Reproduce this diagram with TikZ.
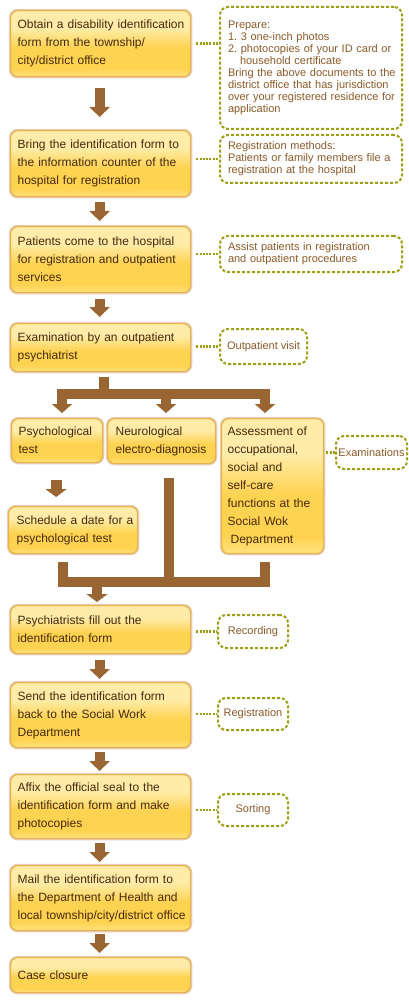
\documentclass[tikz,border=0pt]{standalone}
\usepackage{fontspec}
\setmainfont{Liberation Sans}
\usetikzlibrary{arrows.meta,calc}
\frenchspacing
\definecolor{arrowc}{RGB}{153,102,51}
\definecolor{olivec}{RGB}{158,158,20}
\definecolor{notetext}{RGB}{140,90,40}
\definecolor{maintext}{RGB}{70,40,10}
\definecolor{boxborder}{RGB}{236,176,72}
\definecolor{boxglow}{RGB}{205,170,140}
\definecolor{blight}{RGB}{255,236,168}
\definecolor{bdeep}{RGB}{255,211,82}
\definecolor{bbot}{RGB}{255,228,128}
\pgfdeclareverticalshading{boxshade}{100bp}{color(0bp)=(bbot); color(25bp)=(bbot); color(31bp)=(bdeep); color(47bp)=(bdeep); color(62bp)=(blight); color(75bp)=(blight); color(100bp)=(blight)}
\newcommand{\nbx}[1]{\mbox{#1}}
\tikzset{
  mainbox/.style={anchor=north west, rounded corners=7pt, shading=boxshade,
    draw=boxborder, line width=1.2pt,
    preaction={draw=boxglow, line width=3.5pt, opacity=0.55},
    text=maintext, font=\fontsize{12}{18}\selectfont, align=left,
    inner xsep=7pt, inner ysep=0pt},
  notebox/.style={anchor=north west, rounded corners=8pt, draw=olivec,
    line width=2pt, dash pattern=on 3pt off 2pt, text=notetext,
    font=\fontsize{11}{12}\selectfont, align=left, inner xsep=8pt, inner ysep=0pt},
  smallnote/.style={notebox, align=center, inner xsep=2pt},
  noteline/.style={draw=olivec, line width=2.5pt, dash pattern=on 2pt off 1.3pt},
  blk/.style={draw=arrowc, line width=10pt, -{Triangle[width=20pt,length=10pt]}},
  fshaft/.style={draw=arrowc, line width=10pt, line join=miter},
  ftip/.tip={Triangle[width=20pt,length=9pt]}
}
\begin{document}
\begin{tikzpicture}[x=1pt,y=-1pt]
\useasboundingbox (0,0) rectangle (408,1000);
\fill[white] (0,0) rectangle (408,1000);

% main column
\node[mainbox, text width=166pt, minimum height=66pt] (b1) at (10,10)
  {\nbx{Obtain a disability identification}\\\nbx{form from the township/}\\\nbx{city/district office}};
\node[mainbox, text width=166pt, minimum height=66pt] (b2) at (10,130)
  {\nbx{Bring the identification form to}\\\nbx{the information counter of the}\\\nbx{hospital for registration}};
\node[mainbox, text width=166pt, minimum height=66pt] (b3) at (10,226)
  {\nbx{Patients come to the hospital}\\\nbx{for registration and outpatient}\\\nbx{services}};
\node[mainbox, text width=166pt, minimum height=48pt] (b4) at (10,323)
  {\nbx{Examination by an outpatient}\\\nbx{psychiatrist}};

\node[mainbox, text width=77pt, minimum height=44pt] (p1) at (11,418)
  {\nbx{Psychological}\\\nbx{test}};
\node[mainbox, text width=92pt, inner xsep=8pt, minimum height=45pt] (p2) at (107,418)
  {\nbx{Neurological}\\\nbx{electro-diagnosis}};
\node[mainbox, text width=90pt, inner xsep=6pt, minimum height=135pt] (p3) at (221,418)
  {\nbx{Assessment of}\\\nbx{occupational,}\\\nbx{social and}\\\nbx{self-care}\\\nbx{functions at the}\\\nbx{Social Wok}\\\nbx{\hspace*{3pt}Department}};
\node[mainbox, text width=113pt, inner xsep=8pt, minimum height=47pt] (p4) at (8,506)
  {\nbx{Schedule a date for a}\\\nbx{psychological test}};

\node[mainbox, text width=166pt, minimum height=48pt] (b9) at (10,605)
  {\nbx{Psychiatrists fill out the}\\\nbx{identification form}};
\node[mainbox, text width=166pt, minimum height=65pt] (b10) at (10,682)
  {\nbx{Send the identification form}\\\nbx{back to the Social Work}\\\nbx{Department}};
\node[mainbox, text width=166pt, minimum height=64pt] (b11) at (10,774)
  {\nbx{Affix the official seal to the}\\\nbx{identification form and make}\\\nbx{photocopies}};
\node[mainbox, text width=166pt, minimum height=65pt] (b12) at (10,865)
  {\nbx{Mail the identification form to}\\\nbx{the Department of Health and}\\\nbx{local township/city/district office}};
\node[mainbox, text width=166pt, minimum height=35pt] (b13) at (10,957)
  {\nbx{Case closure}};

% notes
\node[notebox, text width=166pt, minimum height=122pt] (n1) at (219,6)
  {\nbx{Prepare:}\\\nbx{1. 3 one-inch photos}\\\nbx{2. photocopies of your ID card or}\\\nbx{\hspace*{12pt}household certificate}\\\nbx{Bring the above documents to the}\\\nbx{district office that has jurisdiction}\\\nbx{over your registered residence for}\\\nbx{application}};
\node[notebox, text width=166pt, minimum height=48pt] (n2) at (219,134)
  {\nbx{Registration methods:}\\\nbx{Patients or family members file a}\\\nbx{registration at the hospital}};
\node[notebox, text width=166pt, minimum height=36pt] (n3) at (219,235)
  {\nbx{Assist patients in registration}\\\nbx{and outpatient procedures}};
\node[smallnote, minimum width=87pt, minimum height=35pt] (n4) at (219,328) {Outpatient visit};
\node[smallnote, inner xsep=1pt, minimum width=71pt, minimum height=33pt] (n5) at (335,435) {Examinations};
\node[smallnote, minimum width=70pt, minimum height=33pt] (n6) at (217,614) {Recording};
\node[smallnote, minimum width=70pt, minimum height=32pt] (n7) at (217,697) {Registration};
\node[smallnote, minimum width=70pt, minimum height=32pt] (n8) at (217,793) {Sorting};

% note connectors
\draw[noteline, shorten <=5pt] (b1.east) -- (b1.east -| n1.west);
\draw[noteline, shorten <=5pt] (n2.west -| b2.east) -- (n2.west);
\draw[noteline, shorten <=5pt] (n3.west -| b3.east) -- (n3.west);
\draw[noteline, shorten <=5pt] (n4.west -| b4.east) -- (n4.west);
\draw[noteline, shorten <=2pt] (n5.west -| p3.east) -- (n5.west);
\draw[noteline, shorten <=5pt] (n6.west -| b9.east) -- (n6.west);
\draw[noteline, shorten <=5pt] (n7.west -| b10.east) -- (n7.west);
\draw[noteline, shorten <=5pt] (n8.west -| b11.east) -- (n8.west);

% main arrows
\draw[blk, shorten <=11pt, shorten >=13pt] ([xshift=-1pt]b1.south) -- ([xshift=-1pt]b2.north);
\draw[blk, shorten <=5pt, shorten >=5pt] ([xshift=-1pt]b2.south) -- ([xshift=-1pt]b3.north);
\draw[blk, shorten <=6pt, shorten >=6pt] ([xshift=-1pt]b3.south) -- ([xshift=-1pt]b4.north);
\draw[blk, shorten <=6pt, shorten >=3pt] ([xshift=-1pt]b9.south) -- ([xshift=-1pt]b10.north);
\draw[blk, shorten <=4pt, shorten >=3pt] ([xshift=-1pt]b10.south) -- ([xshift=-1pt]b11.north);
\draw[blk, shorten <=4pt, shorten >=3pt] ([xshift=-1pt]b11.south) -- ([xshift=-1pt]b12.north);
\draw[blk, shorten <=3pt, shorten >=4pt] ([xshift=-1pt]b12.south) -- ([xshift=-1pt]b13.north);

% fork
\coordinate (f0) at (104,394);
\coordinate (fl) at (62,394);
\coordinate (fm) at (166,394);
\coordinate (fr) at (265,394);
\draw[fshaft, shorten <=5pt] (b4.south -| f0) -- (f0);
\draw[fshaft, {ftip}-{ftip}, shorten <=5pt, shorten >=5pt] (p1.north -| fl) -- (fl) -- (fr) -- (p3.north -| fr);
\draw[fshaft, -{ftip}, shorten >=5pt] (fm) -- (fm |- p2.north);

% psychological test -> schedule
\draw[blk, line width=11pt, -{Triangle[width=21pt,length=8pt]}, shorten <=17pt, shorten >=9pt] ([xshift=-1pt]p1.south) -- ([xshift=-1pt]p1.south |- p4.north);

% merge
\coordinate (ml) at (63,582);
\coordinate (mm) at (169,582);
\coordinate (mr) at (265,582);
\coordinate (md) at (97,582);
\draw[fshaft, shorten <=8pt, shorten >=8pt] (p4.south -| ml) -- (ml) -- (mr) -- (p3.south -| mr);
\draw[fshaft, shorten <=14pt] (p2.south -| mm) -- (mm);
\draw[fshaft, -{Triangle[width=21pt,length=8pt]}, shorten >=3pt] (md) -- (md |- b9.north);
\end{tikzpicture}
\end{document}
